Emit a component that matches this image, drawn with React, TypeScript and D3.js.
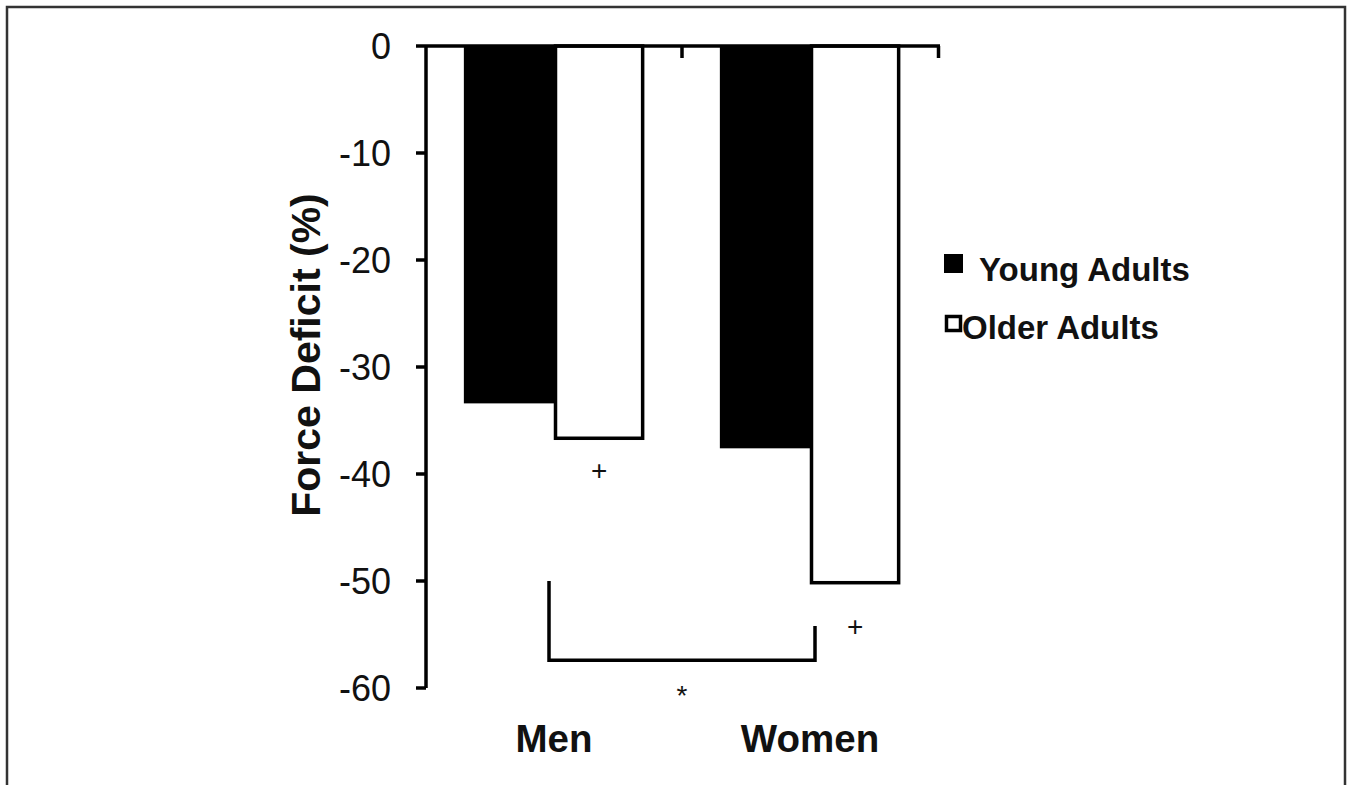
import React from 'react'
import * as d3 from 'd3'

const width = 1350
const height = 785

const categories = ['Men', 'Women']
const seriesNames = ['Young Adults', 'Older Adults']
const youngValues = [-33.4, -37.6]
const olderValues = [-36.8, -50.3]
const yTicks = [0, -10, -20, -30, -40, -50, -60]

// "+" marks under the older bars, and the Men-vs-Women bracket
const plusMarks = [
  {category: 'Men', value: -39.6},
  {category: 'Women', value: -54.2},
]
const bracket = {left: -50.0, right: -54.2, bottom: -57.4, starAt: -60}

const font = '"Liberation Sans", Arial, Helvetica, sans-serif'

const x0 = d3.scaleBand().domain(categories).range([426, 938]).padding(0)
const x1 = d3
  .scaleBand()
  .domain(seriesNames)
  .range([0, x0.bandwidth()])
  .paddingInner(0)
  .paddingOuter(0.42)
const y = d3.scaleLinear().domain([0, -60]).range([46, 688])

const App = () => {
  const rows = categories.map((c, i) => ({
    category: c,
    values: [youngValues[i], olderValues[i]],
  }))
  const center = (c: string) => (x0(c) as number) + x0.bandwidth() / 2
  const olderCenter = (c: string) =>
    (x0(c) as number) + (x1('Older Adults') as number) + x1.bandwidth() / 2

  const bx1 = center('Men') - 5
  const bx2 = center('Women') + 5

  return (
    <div style={{position: 'fixed', left: 0, top: 0}}>
      <svg width={width} height={height} style={{display: 'block', background: '#fff'}}>
        {/* frame */}
        <rect x={7} y={7} width={1338} height={900} fill="none" stroke="#333" strokeWidth={2.5} />

        {/* bars */}
        {rows.map(r => (
          <g key={r.category} transform={`translate(${x0(r.category)},0)`}>
            {r.values.map((v, j) => {
              const s = seriesNames[j]
              const filled = j === 0
              return (
                <rect
                  key={s}
                  x={(x1(s) as number) + (filled ? 0 : 1.5)}
                  y={y(0)}
                  width={x1.bandwidth() - (filled ? 0 : 3)}
                  height={y(v) - y(0) - (filled ? 0 : 1.5)}
                  fill={filled ? '#000' : '#fff'}
                  stroke="#000"
                  strokeWidth={filled ? 0 : 3.5}
                />
              )
            })}
          </g>
        ))}

        {/* y axis */}
        <line x1={426} x2={426} y1={y(0)} y2={y(-60)} stroke="#000" strokeWidth={3.5} />
        {yTicks.map(t => (
          <g key={t}>
            <line x1={416} x2={426} y1={y(t)} y2={y(t)} stroke="#000" strokeWidth={3.5} />
            <text
              x={391}
              y={y(t)}
              dy="0.36em"
              textAnchor="end"
              fontFamily={font}
              fontSize={36}
              fill="#111"
            >
              {t}
            </text>
          </g>
        ))}

        {/* x axis along zero */}
        <line x1={426} x2={940} y1={y(0)} y2={y(0)} stroke="#000" strokeWidth={3.5} />
        {[categories[1], 'end'].map(c => {
          const xx = c === 'end' ? 938.5 : (x0(c) as number)
          return <line key={c} x1={xx} x2={xx} y1={y(0)} y2={y(0) + 12} stroke="#000" strokeWidth={3.5} />
        })}

        {categories.map(c => (
          <text
            key={c}
            x={center(c)}
            y={752}
            textAnchor="middle"
            fontFamily={font}
            fontWeight="bold"
            fontSize={38.5}
            fill="#111"
          >
            {c}
          </text>
        ))}

        <text
          transform={`translate(320,${(y(0) + y(-60)) / 2 - 12}) rotate(-90)`}
          textAnchor="middle"
          fontFamily={font}
          fontWeight="bold"
          fontSize={41}
          fill="#111"
        >
          Force Deficit (%)
        </text>

        {/* significance marks */}
        {plusMarks.map(p => (
          <text
            key={p.category}
            x={olderCenter(p.category)}
            y={y(p.value)}
            dy="0.35em"
            textAnchor="middle"
            fontFamily={font}
            fontSize={28}
            fill="#111"
          >
            +
          </text>
        ))}
        <path
          d={`M${bx1},${y(bracket.left)}V${y(bracket.bottom)}H${bx2}V${y(bracket.right)}`}
          fill="none"
          stroke="#000"
          strokeWidth={3.5}
        />
        <text
          x={(bx1 + bx2) / 2}
          y={y(bracket.starAt)}
          dy="0.6em"
          textAnchor="middle"
          fontFamily={font}
          fontSize={28}
          fill="#111"
        >
          *
        </text>

        {/* legend */}
        <rect x={944} y={254} width={19} height={19} fill="#000" />
        <text x={979} y={281} fontFamily={font} fontWeight="bold" fontSize={33} fill="#111">
          {seriesNames[0]}
        </text>
        <rect x={946.5} y={316.5} width={14} height={14} fill="#fff" stroke="#000" strokeWidth={3.5} />
        <text x={962} y={339} fontFamily={font} fontWeight="bold" fontSize={33} fill="#111">
          {seriesNames[1]}
        </text>
      </svg>
    </div>
  )
}

export default App
